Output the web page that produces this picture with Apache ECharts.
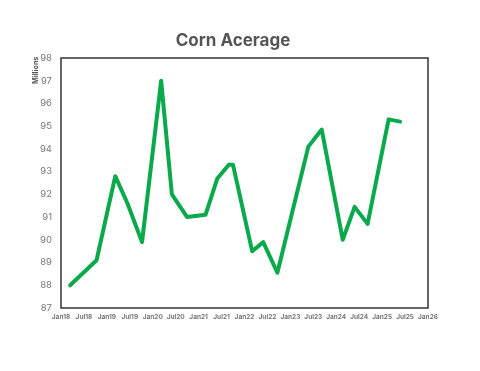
<!DOCTYPE html>
<html><head><meta charset="utf-8">
<script src="https://cdn.jsdelivr.net/npm/echarts@6/dist/echarts.min.js"></script>
<style>html,body{margin:0;padding:0;background:#fff}#c{width:480px;height:371px}</style>
</head><body><div id="c"></div>
<script>
// Months since Jan 2018 for each reading
const months = [2.4, 9.3, 14.2, 17.4, 21.2, 26.2, 29.0, 33.0, 37.8, 40.9, 43.9, 45.0, 50.0, 52.9, 56.6, 64.7, 68.2, 68.6, 73.7, 76.8, 80.2, 85.7, 88.7];
const acres = [88.0, 89.1, 92.8, 91.6, 89.9, 97.0, 92.0, 91.0, 91.1, 92.7, 93.3, 93.3, 89.5, 89.9, 88.55, 94.1, 94.85, 94.85, 90.0, 91.45, 90.7, 95.3, 95.2];
const xTickLabels = ['Jan18','Jul18','Jan19','Jul19','Jan20','Jul20','Jan21','Jul21','Jan22','Jul22','Jan23','Jul23','Jan24','Jul24','Jan25','Jul25','Jan26'];

const data = months.map((m, i) => [m, acres[i]]);
const chart = echarts.init(document.getElementById('c'), null, {renderer: 'canvas'});
chart.setOption({
  animation: false,
  title: {
    text: 'Corn Acerage', left: 228, top: 27, textAlign: 'center',
    textStyle: {fontFamily: 'Inter', fontSize: 17, fontWeight: 'bold', color: '#555'}
  },
  grid: {left: 61, right: 52, top: 58, bottom: 63, show: true, borderColor: '#333', borderWidth: 1.5, backgroundColor: 'transparent'},
  xAxis: {
    type: 'value', min: 0, max: 96, interval: 6,
    axisLine: {show: false}, axisTick: {show: false}, splitLine: {show: false},
    axisLabel: {
      fontFamily: 'Inter', fontSize: 6.5, fontWeight: 'bold', color: '#777', margin: 6,
      formatter: v => xTickLabels[Math.round(v / 6)] || ''
    }
  },
  yAxis: {
    type: 'value', min: 87, max: 98, interval: 1,
    axisLine: {show: false}, axisTick: {show: false}, splitLine: {show: false},
    axisLabel: {fontFamily: 'Inter', fontSize: 9.5, color: '#777', margin: 9}
  },
  graphic: [{
    type: 'text', x: 32, y: 84, rotation: Math.PI / 2,
    style: {text: 'Millions', fontFamily: 'Inter', fontSize: 7.2, fontWeight: 'bold', fill: '#555'}
  }],
  series: [{
    type: 'line', data: data, showSymbol: false,
    lineStyle: {color: '#0aaa4c', width: 4, join: 'round', cap: 'round'}
  }]
});
</script></body></html>
